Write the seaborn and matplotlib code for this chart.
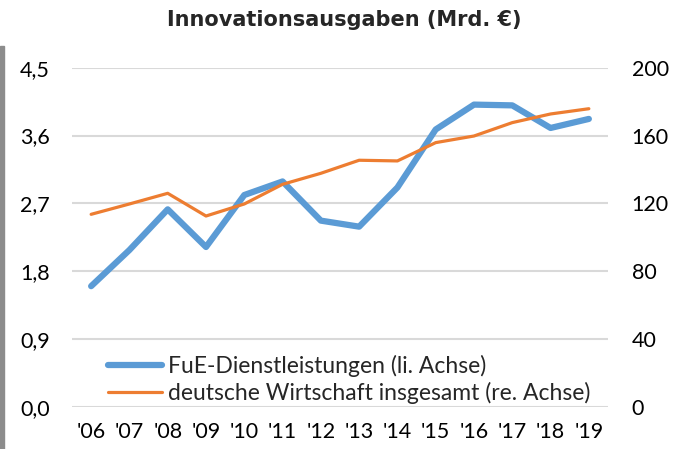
import pandas as pd
import matplotlib
matplotlib.use('Agg')
import matplotlib.pyplot as plt
import seaborn as sns
from matplotlib.patches import Rectangle

sns.set_theme(style="white")
plt.rcParams['font.family'] = ['Lato', 'DejaVu Sans']

years = ["'06", "'07", "'08", "'09", "'10", "'11", "'12", "'13", "'14", "'15", "'16", "'17", "'18", "'19"]
fue = [1.60, 2.08, 2.62, 2.12, 2.81, 2.99, 2.47, 2.39, 2.91, 3.68, 4.01, 4.00, 3.70, 3.82]
wirtschaft = [113.5, 119.6, 125.9, 112.5, 119.6, 131.2, 137.7, 145.4, 145.0, 155.8, 159.7, 167.6, 172.7, 175.8]

left_ticks = [0.0, 0.9, 1.8, 2.7, 3.6, 4.5]
right_ticks = [0, 40, 80, 120, 160, 200]

df = pd.DataFrame({'Jahr': years, 'FuE': fue, 'Wirtschaft': wirtschaft})
df['pos'] = range(len(df))

blue = '#5B9BD5'
orange = '#ED7D31'
grid_c = '#D9D9D9'
fs = 15.5

fig = plt.figure(figsize=(6.89, 4.49), dpi=100)
fig.patch.set_facecolor('white')
ax = fig.add_axes([72 / 689, 1 - 406.7 / 449, 536 / 689, (406.7 - 67.7) / 449])
ax2 = ax.twinx()

# gridlines from the left axis only
for t in left_ticks:
    ax.axhline(t, color=grid_c, lw=1.5, zorder=0)

sns.lineplot(data=df, x='pos', y='FuE', ax=ax, color=blue, lw=4.5,
             solid_capstyle='round', label='FuE-Dienstleistungen (li. Achse)', legend=False)
sns.lineplot(data=df, x='pos', y='Wirtschaft', ax=ax2, color=orange, lw=2.3,
             solid_capstyle='round', label='deutsche Wirtschaft insgesamt (re. Achse)', legend=False)

ax.set_xlim(-0.5, len(years) - 0.5)
ax.set_ylim(0, 4.5)
ax2.set_ylim(0, 200)
ax.set_xticks(df['pos'])
ax.set_xticklabels(years)
ax.set_yticks(left_ticks)
ax.set_yticklabels([f'{t:.1f}'.replace('.', ',') for t in left_ticks])
ax2.set_yticks(right_ticks)
ax2.set_yticklabels([str(t) for t in right_ticks])
ax.set_xlabel('')
ax.set_ylabel('')
ax2.set_ylabel('')

for a in (ax, ax2):
    for s in a.spines.values():
        s.set_visible(False)
    a.grid(False)
    a.set_facecolor('none')
ax.tick_params(axis='y', length=0, pad=16, labelsize=fs, labelcolor='black')
ax.tick_params(axis='x', length=0, pad=11, labelsize=fs, labelcolor='black')
ax2.tick_params(axis='y', length=0, pad=17, labelsize=fs, labelcolor='black')

h1, l1 = ax.get_legend_handles_labels()
h2, l2 = ax2.get_legend_handles_labels()
ax2.legend(h1 + h2, l1 + l2, loc='lower left', bbox_to_anchor=(0.067, 0.008),
           frameon=False, fontsize=16.5, handlelength=2.35, handletextpad=0.28,
           labelspacing=0.22, borderpad=0, borderaxespad=0)

fig.text(0.5, 1 - 20 / 449, 'Innovationsausgaben (Mrd. €)', ha='center', va='center',
         fontsize=15, fontweight='bold', family=['DejaVu Sans'])

# grey bar at the left edge
fig.patches.append(Rectangle((0, 0), 4 / 689, 1 - 46 / 449, transform=fig.transFigure,
                             color='#8C8C8C', zorder=0))

fig.savefig('out.png', dpi=100)
